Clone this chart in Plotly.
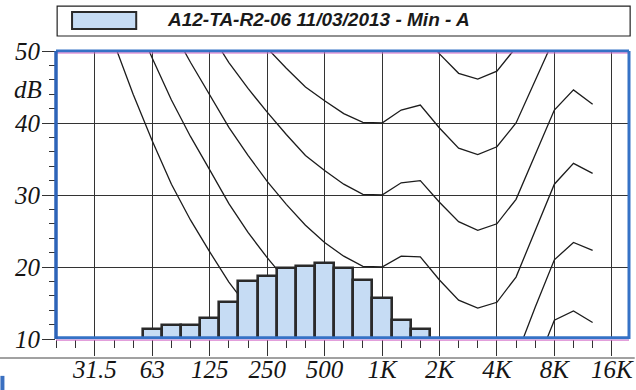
import plotly.graph_objects as go

# ---------------- data ----------------
band_labels = ["20", "25", "31.5", "40", "50", "63", "80", "100", "125", "160", "200",
               "250", "315", "400", "500", "630", "800", "1K", "1.25K", "1.6K", "2K",
               "2.5K", "3.15K", "4K", "5K", "6.3K", "8K", "10K", "12.5K", "16K", "20K"]
octave_labels = ["31.5", "63", "125", "250", "500", "1K", "2K", "4K", "8K", "16K"]

# equal-loudness reference curves (dB), bands 20 Hz .. 12.5 kHz
curve_bands = band_labels[:29]
threshold = [78.5, 68.7, 59.5, 51.1, 44.0, 37.5, 31.5, 26.5, 22.1, 17.9, 14.4, 11.4, 8.6, 6.2,
             4.4, 3.0, 2.2, 2.4, 3.5, 1.7, -1.3, -4.2, -6.0, -5.4, -1.5, 6.0, 12.6, 13.9, 12.3]
phon10 = [83.8, 75.8, 68.2, 61.1, 55.0, 49.0, 43.2, 38.1, 33.5, 28.8, 24.8, 21.3, 18.1, 15.1,
          13.0, 11.2, 10.0, 10.0, 11.3, 10.4, 7.3, 4.5, 3.0, 3.8, 7.5, 14.4, 21.0, 23.4, 22.3]
phon20 = [89.6, 82.7, 76.0, 69.6, 64.0, 58.6, 53.2, 48.4, 43.9, 39.4, 35.5, 31.9, 28.7, 25.8,
          23.4, 21.5, 20.1, 20.0, 21.5, 21.4, 18.2, 15.4, 14.3, 15.1, 18.6, 25.0, 31.5, 34.4, 33.0]
phon30 = [96.9, 89.6, 82.6, 75.9, 70.1, 64.4, 60.2, 56.8, 52.6, 48.4, 44.8, 41.5, 38.4, 35.5,
          33.4, 31.5, 30.1, 30.0, 31.7, 32.0, 29.0, 26.3, 25.1, 26.0, 29.4, 35.5, 41.8, 44.6, 42.6]
phon40 = [101.0, 95.0, 89.0, 83.0, 78.0, 73.0, 68.5, 64.5, 60.6, 56.7, 53.4, 50.4, 47.6, 45.0,
          43.1, 41.3, 40.1, 40.0, 41.8, 42.5, 39.3, 36.5, 35.6, 36.7, 40.0, 45.8, 51.8, 54.3, 51.5]
phon50 = [106.0, 101.0, 96.0, 90.0, 85.0, 80.0, 75.0, 71.0, 67.5, 64.5, 61.5, 59.0, 56.6, 54.5,
          52.6, 51.1, 50.0, 50.0, 52.0, 52.9, 49.6, 46.9, 46.1, 47.2, 50.5, 56.2, 61.8, 64.2, 61.4]
curves = [threshold, phon10, phon20, phon30, phon40, phon50]

# measured third-octave spectrum
series_name = "A12-TA-R2-06 11/03/2013 - Min - A"
meas_bands = ["63", "80", "100", "125", "160", "200", "250", "315", "400", "500", "630",
              "800", "1K", "1.25K", "1.6K"]
meas_values = [11.4, 12.0, 11.9, 12.9, 15.2, 18.1, 18.7, 19.8, 20.2, 20.5, 19.8, 18.2, 15.7,
               12.7, 11.4]

y_ticks = [10, 20, 30, 40, 50]

# ---------------- figure ----------------
pos = {b: i for i, b in enumerate(band_labels)}
cx = [pos[b] for b in curve_bands]

fig = go.Figure()
for c in curves:
    fig.add_trace(go.Scatter(x=cx, y=c, mode="lines", showlegend=False, hoverinfo="skip",
                             line=dict(color="#1c1c1c", width=1.3)))

fig.add_trace(go.Bar(x=[pos[b] for b in meas_bands], y=meas_values, width=1.0,
                     name=series_name, showlegend=False, xaxis="x2", yaxis="y2",
                     marker=dict(color="#c6dcf4", line=dict(color="#2a2a2a", width=2.6))))

XR = [-0.03, 29.9]
YR = [10, 50]
serif = dict(family="Liberation Serif", size=25, color="#151515", style="italic")

fig.update_layout(
    width=636, height=390,
    margin=dict(l=56, r=2, t=51, b=51),
    paper_bgcolor="white", plot_bgcolor="white",
    bargap=0,
    xaxis=dict(range=XR, tickmode="array",
               tickvals=[pos[o] for o in octave_labels], ticktext=octave_labels,
               ticks="outside", ticklen=16, tickcolor="#333", tickwidth=1,
               showgrid=True, gridcolor="#333", gridwidth=1, zeroline=False, showline=False,
               tickfont=serif, ticklabelstandoff=-8, ticklabeloverflow="allow",
               minor=dict(tickmode="array", tickvals=list(range(0, 30)), ticks="outside",
                          ticklen=8, tickcolor="#333", showgrid=False)),
    yaxis=dict(range=YR, tickmode="array", tickvals=y_ticks,
               ticktext=[str(v) for v in y_ticks],
               ticks="outside", ticklen=13, tickcolor="#333", tickwidth=1,
               showgrid=True, gridcolor="#333", gridwidth=1, zeroline=False, showline=False,
               tickfont=serif, ticklabeloverflow="allow", ticklabelstandoff=-3,
               minor=dict(dtick=2, tick0=10, ticks="outside", ticklen=6, tickcolor="#333",
                          showgrid=False)),
    xaxis2=dict(range=XR, overlaying="x", visible=False),
    yaxis2=dict(range=YR, overlaying="y", visible=False),
)

blue = "#3572c6"
pink = "#d46ac8"
shapes = [
    # plot frame
    dict(type="line", xref="paper", yref="paper", x0=0, x1=1, y0=1, y1=1,
         line=dict(color=blue, width=3)),
    dict(type="line", xref="paper", yref="paper", x0=0, x1=1, y0=0.993, y1=0.993,
         line=dict(color=pink, width=1)),
    dict(type="line", xref="paper", yref="paper", x0=0, x1=1, y0=0.004, y1=0.004,
         line=dict(color=blue, width=3)),
    dict(type="line", xref="paper", yref="paper", x0=0, x1=1, y0=-0.004, y1=-0.004,
         line=dict(color=pink, width=1)),
    dict(type="line", xref="paper", yref="paper", x0=0, x1=0, y0=0, y1=1,
         line=dict(color="#2d63b8", width=3.5)),
    dict(type="line", xref="paper", yref="paper", x0=1, x1=1, y0=0, y1=1,
         line=dict(color=blue, width=3)),
    # line under axis ticks
    dict(type="line", xref="paper", yref="paper", x0=-0.1, x1=1.01, y0=-0.066, y1=-0.066,
         line=dict(color="#444", width=1)),
    # legend box + swatch
    dict(type="rect", xref="paper", yref="paper", x0=0.002, x1=1.002, y0=1.052, y1=1.156,
         line=dict(color="#222", width=1.2), fillcolor="rgba(0,0,0,0)"),
    dict(type="rect", xref="paper", yref="paper", x0=0.028, x1=0.140, y0=1.076, y1=1.135,
         line=dict(color="#2a2a2a", width=2), fillcolor="#c6dcf4"),
    # small blue mark bottom-left
    dict(type="rect", xref="paper", yref="paper", x0=-0.097, x1=-0.090, y0=-0.177, y1=-0.128,
         line=dict(width=0), fillcolor="#3a6fc0"),
]
fig.update_layout(shapes=shapes)

fig.add_annotation(xref="paper", yref="paper", x=0.190, y=1.111, xanchor="left",
                   yanchor="middle", showarrow=False, text=series_name,
                   font=dict(family="Liberation Sans", size=19, color="#1a1a1a",
                             weight="bold", style="italic"))
fig.add_annotation(xref="paper", yref="paper", x=-0.0484, y=0.865, xanchor="center",
                   yanchor="middle", showarrow=False, text="dB", font=serif)

fig.write_html("out.html")
